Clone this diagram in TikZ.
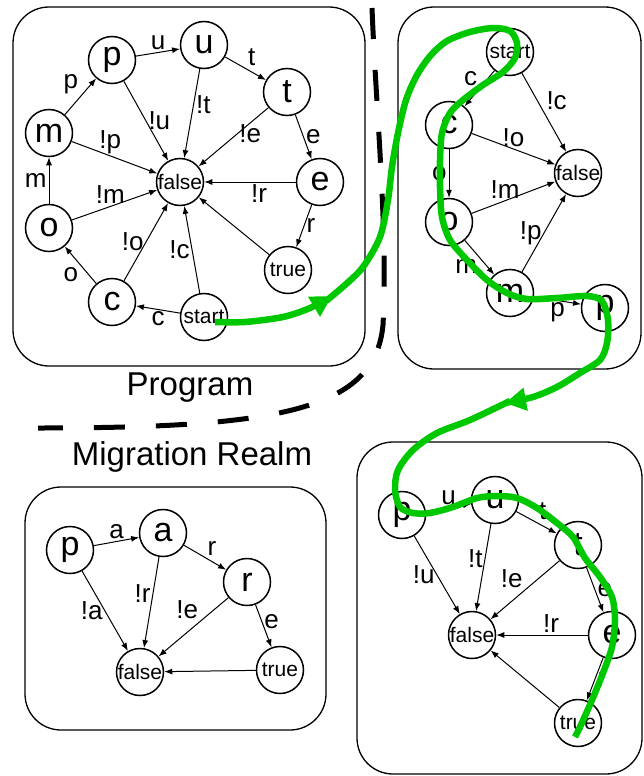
\documentclass[tikz,border=0pt]{standalone}
\usepackage{fontspec}
\setmainfont{Liberation Sans}
\usepackage{xcolor}
\usepackage{tikz}
\usetikzlibrary{arrows.meta}
\definecolor{tracegreen}{RGB}{0,200,0}
\tikzset{
    state/.style={circle, draw, line width=1.5pt, minimum size=47pt,
        inner sep=0pt, font=\fontsize{34}{34}\selectfont},
    endstate/.style={state, font=\fontsize{21}{21}\selectfont},
    flow/.style={-{Latex[length=8pt,width=6pt]}, line width=1pt},
    lbl/.style={font=\fontsize{26}{26}\selectfont, inner sep=2pt},
    realm/.style={draw, rounded corners=36pt, line width=1.3pt},
    title/.style={font=\fontsize{33}{33}\selectfont},
    divider/.style={line width=5pt, dash pattern=on 31pt off 31pt},
    trace/.style={draw=tracegreen, line width=6.5pt},
    tracetip/.style={trace, -{Triangle[length=21pt,width=22pt]}}
}

\begin{document}
\begin{tikzpicture}[x=1pt, y=-1pt]
        \useasboundingbox (0,0) rectangle (644,776);
        \draw[realm] (13,7) rectangle (365,366);
        \draw[realm] (398,7) rectangle (641,369);
        \draw[realm] (25,487) rectangle (326,730);
        \draw[realm] (357,442) rectangle (642,774);
        \node[title] (program) at (190,388) {Program};
        \node[title] (realm) at (192,457) {Migration Realm};
        \draw[divider] (372,8) .. controls (376,110) and (388,230) .. (383,325)
            .. controls (375,410) and (280,428) .. (38,428);

        \node[state] (progP) at (112,60) {p};
        \node[state] (progU) at (204,45) {u};
        \node[state] (progT) at (287,92) {t};
        \node[state] (progM) at (49,133) {m};
        \node[endstate] (progFalse) at (180,182) {false};
        \node[state] (progE) at (320,182) {e};
        \node[state] (progO) at (49,228) {o};
        \node[endstate] (progTrue) at (288,270) {true};
        \node[state] (progC) at (112,302) {c};
        \node[endstate] (progStart) at (204,317) {start};
        \draw[flow] (progStart) -- node[lbl, below] {c} (progC);
        \draw[flow] (progC) -- node[lbl, below left] {o} (progO);
        \draw[flow] (progO) -- node[lbl, left] {m} (progM);
        \draw[flow] (progM) -- node[lbl, above left] {p} (progP);
        \draw[flow] (progP) -- node[lbl, above] {u} (progU);
        \draw[flow] (progU) -- node[lbl, above right] {t} (progT);
        \draw[flow] (progT) -- node[lbl, right] {e} (progE);
        \draw[flow] (progE) -- node[lbl, right] {r} (progTrue);
        \draw[flow] (progP) -- node[lbl, right] {!u} (progFalse);
        \draw[flow] (progU) -- node[lbl, right, pos=0.4] {!t} (progFalse);
        \draw[flow] (progT) -- node[lbl, right, pos=0.45] {!e} (progFalse);
        \draw[flow] (progM) -- node[lbl, above, pos=0.45] {!p} (progFalse);
        \draw[flow] (progO) -- node[lbl, above, pos=0.45] {!m} (progFalse);
        \draw[flow] (progE) -- node[lbl, below, pos=0.4] {!r} (progFalse);
        \draw[flow] (progC) -- node[lbl, left] {!o} (progFalse);
        \draw[flow] (progStart) -- node[lbl, left] {!c} (progFalse);
        \draw[flow] (progTrue) -- (progFalse);

        \node[endstate] (slStart) at (510,52) {start};
        \node[state] (slC) at (449,125) {c};
        \node[endstate] (slFalse) at (578,173) {false};
        \node[state] (slO) at (449,222) {o};
        \node[state] (slM) at (510,293) {m};
        \node[state] (slP) at (605,308) {p};
        \draw[flow] (slStart) -- node[lbl, above left] {c} (slC);
        \draw[flow] (slStart) -- node[lbl, above right] {!c} (slFalse);
        \draw[flow] (slC) -- node[lbl, above] {!o} (slFalse);
        \draw[flow] (slC) -- node[lbl, left] {o} (slO);
        \draw[flow] (slO) -- node[lbl, above, pos=0.4] {!m} (slFalse);
        \draw[flow] (slO) -- node[lbl, below left] {m} (slM);
        \draw[flow] (slM) -- node[lbl, left] {!p} (slFalse);
        \draw[flow] (slM) -- node[lbl, below] {p} (slP);

        \node[state] (mrP) at (70,550) {p};
        \node[state] (mrA) at (163,533) {a};
        \node[state] (mrR) at (247,582) {r};
        \node[endstate] (mrFalse) at (140,672) {false};
        \node[endstate] (mrTrue) at (280,670) {true};
        \draw[flow] (mrP) -- node[lbl, above] {a} (mrA);
        \draw[flow] (mrA) -- node[lbl, above right] {r} (mrR);
        \draw[flow] (mrP) -- node[lbl, left] {!a} (mrFalse);
        \draw[flow] (mrA) -- node[lbl, left, pos=0.4] {!r} (mrFalse);
        \draw[flow] (mrR) -- node[lbl, above left, pos=0.4] {!e} (mrFalse);
        \draw[flow] (mrR) -- node[lbl, right, pos=0.4] {e} (mrTrue);
        \draw[flow] (mrTrue) -- (mrFalse);

        \node[state] (mtP) at (402,515) {p};
        \node[state] (mtU) at (495,500) {u};
        \node[state] (mtT) at (578,545) {t};
        \node[endstate] (mtFalse) at (472,635) {false};
        \node[state] (mtE) at (612,635) {e};
        \node[endstate] (mtTrue) at (578,723) {true};
        \draw[flow] (mtP) -- node[lbl, above] {u} (mtU);
        \draw[flow] (mtU) -- node[lbl, above right] {t} (mtT);
        \draw[flow] (mtP) -- node[lbl, left] {!u} (mtFalse);
        \draw[flow] (mtU) -- node[lbl, left, pos=0.4] {!t} (mtFalse);
        \draw[flow] (mtT) -- node[lbl, above left] {!e} (mtFalse);
        \draw[flow] (mtT) -- node[lbl, right] {e} (mtE);
        \draw[flow] (mtE) -- node[lbl, above, pos=0.4] {!r} (mtFalse);
        \draw[flow] (mtE) -- node[lbl, right] {r} (mtTrue);
        \draw[flow] (mtTrue) -- (mtFalse);

        \coordinate (traceA) at (332,296);
        \coordinate (traceB) at (505,403);
        \draw[tracetip] plot[smooth] coordinates {(215,322) (245,322) (283,317)
            (310,308) (traceA)};
        \draw[tracetip] plot[smooth] coordinates {(326,301) (345,285) (363,267)
            (380,237) (388,200) (392,167) (398,133) (406,100) (417,75) (431,55)
            (447,41) (470,32) (493,28) (510,31) (517,43) (515,58) (503,72)
            (483,85) (463,100) (450,113) (442,133) (440,160) (440,187) (442,217)
            (450,240) (467,260) (487,280) (507,293) (527,299) (557,298) (587,296)
            (602,301) (608,320) (607,343) (600,360) (580,373) (557,387) (533,397)
            (traceB)};
        \draw[trace] plot[smooth] coordinates {(510,401) (470,420) (437,433)
            (413,450) (398,470) (395,490) (400,507) (413,513) (430,513) (453,507)
            (477,498) (497,496) (517,498) (537,508) (557,523) (573,537) (585,558)
            (600,577) (612,597) (615,620) (612,647) (603,673) (592,700) (580,727)
            (575,737)};
    \end{tikzpicture}
\end{document}
